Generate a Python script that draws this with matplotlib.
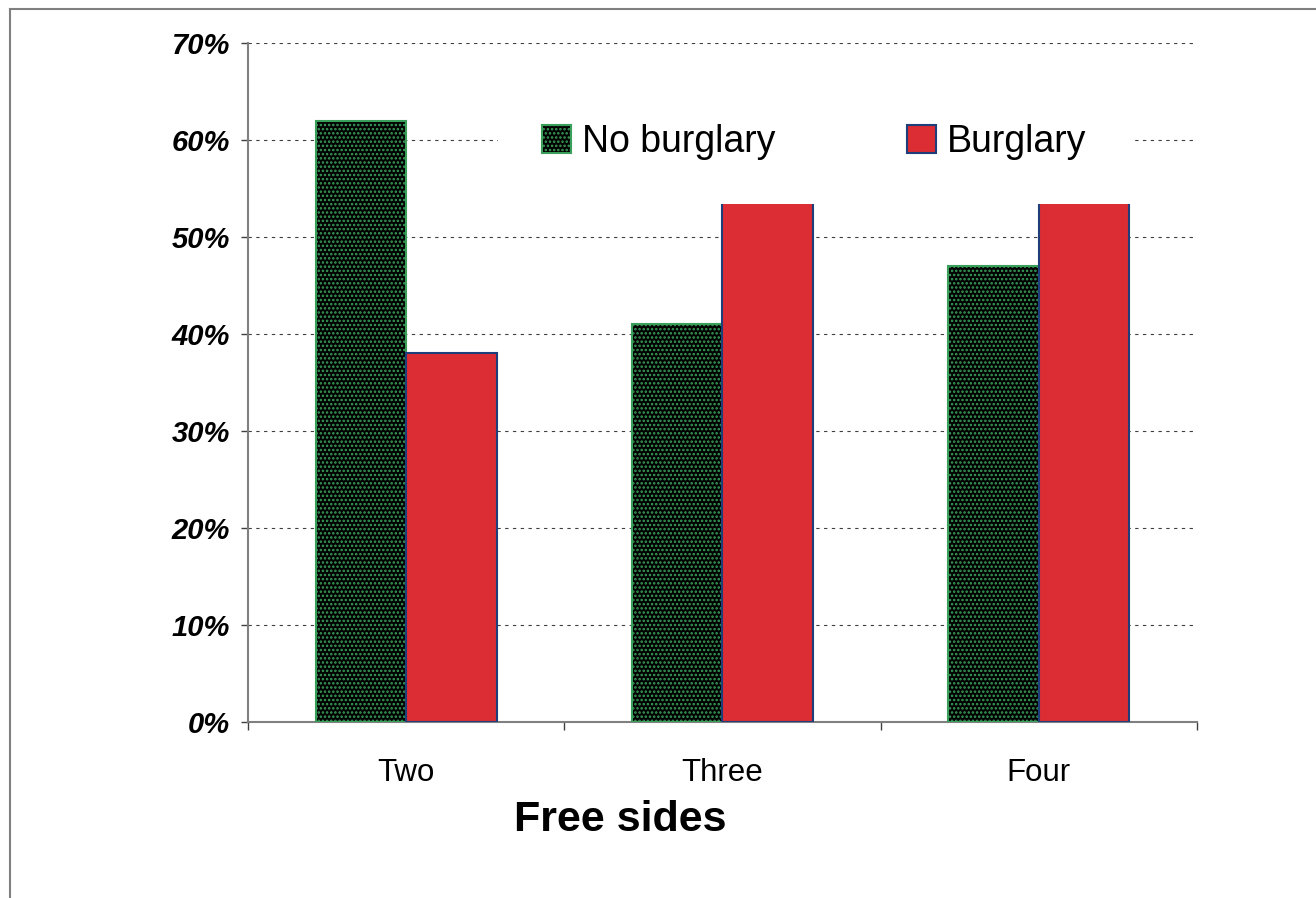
import numpy as np
import matplotlib.pyplot as plt
from matplotlib.lines import Line2D
from matplotlib.ticker import PercentFormatter, FixedLocator

# Data (burglary tops for Three/Four are hidden under the legend)
categories = ['Two', 'Three', 'Four']
no_burglary = [62, 41, 47]
burglary = [38, 54, 54]

plt.rcParams['font.family'] = ['Liberation Sans', 'DejaVu Sans']
plt.rcParams['hatch.linewidth'] = 1.2

fig = plt.figure(figsize=(13.16, 8.98), dpi=100)
ax = fig.add_axes([0.1884, 0.196, 0.7211, 0.7561])

x = np.arange(len(categories))
w = 0.286

ax.bar(x - w / 2, no_burglary, width=w, facecolor='black', edgecolor='#3a9f5a',
       hatch='....', linewidth=1.5, label='No burglary', zorder=3)
ax.bar(x + w / 2, burglary, width=w, facecolor='#dc2c34', edgecolor='#1f3f7a',
       linewidth=1.5, label='Burglary', zorder=3)

# Axes setup
ax.set_xlim(-0.5, len(categories) - 0.5)
ax.set_ylim(0, 70)
ax.set_yticks(np.arange(0, 71, 10))
ax.yaxis.set_major_formatter(PercentFormatter(xmax=100, decimals=0))
ax.set_xticks(x)
ax.set_xticklabels(categories, fontsize=22.5)
ax.xaxis.set_minor_locator(FixedLocator(np.arange(-0.5, len(categories), 1.0)))
ax.tick_params(axis='x', which='major', length=0, pad=26)
ax.tick_params(axis='x', which='minor', length=6, width=1, color='#404040', direction='out')
ax.tick_params(axis='y', length=5, width=1, color='#404040', pad=8)
for lab in ax.get_yticklabels():
    lab.set_fontsize(21)
    lab.set_fontweight('bold')
    lab.set_fontstyle('italic')

ax.yaxis.grid(True, linestyle=(0, (3, 4)), color='#404040', linewidth=0.8)
ax.set_axisbelow(True)

for side in ['top', 'right']:
    ax.spines[side].set_visible(False)
for side in ['left', 'bottom']:
    ax.spines[side].set_color('#808080')
    ax.spines[side].set_linewidth(1.5)

ax.set_xlabel('Free sides', fontsize=31, fontweight='bold', va='center')
ax.xaxis.set_label_coords(0.392, -0.144)

leg = ax.legend(ncol=2, loc='center', bbox_to_anchor=(0.597, 0.854),
                frameon=True, fancybox=False, framealpha=1, facecolor='white',
                edgecolor='none', handlelength=0.77, handleheight=0.77,
                handletextpad=0.3, columnspacing=3.5, borderpad=1.18,
                prop={'size': 27})
leg.set_zorder(4)

# Outer frame lines (top and left) as in the original slide
fig.add_artist(Line2D([10 / 1316, 1], [1 - 9 / 898, 1 - 9 / 898],
                      transform=fig.transFigure, color='#808080', linewidth=1.5))
fig.add_artist(Line2D([10 / 1316, 10 / 1316], [0, 1 - 9 / 898],
                      transform=fig.transFigure, color='#808080', linewidth=1.5))

fig.savefig('out.png', dpi=100)
